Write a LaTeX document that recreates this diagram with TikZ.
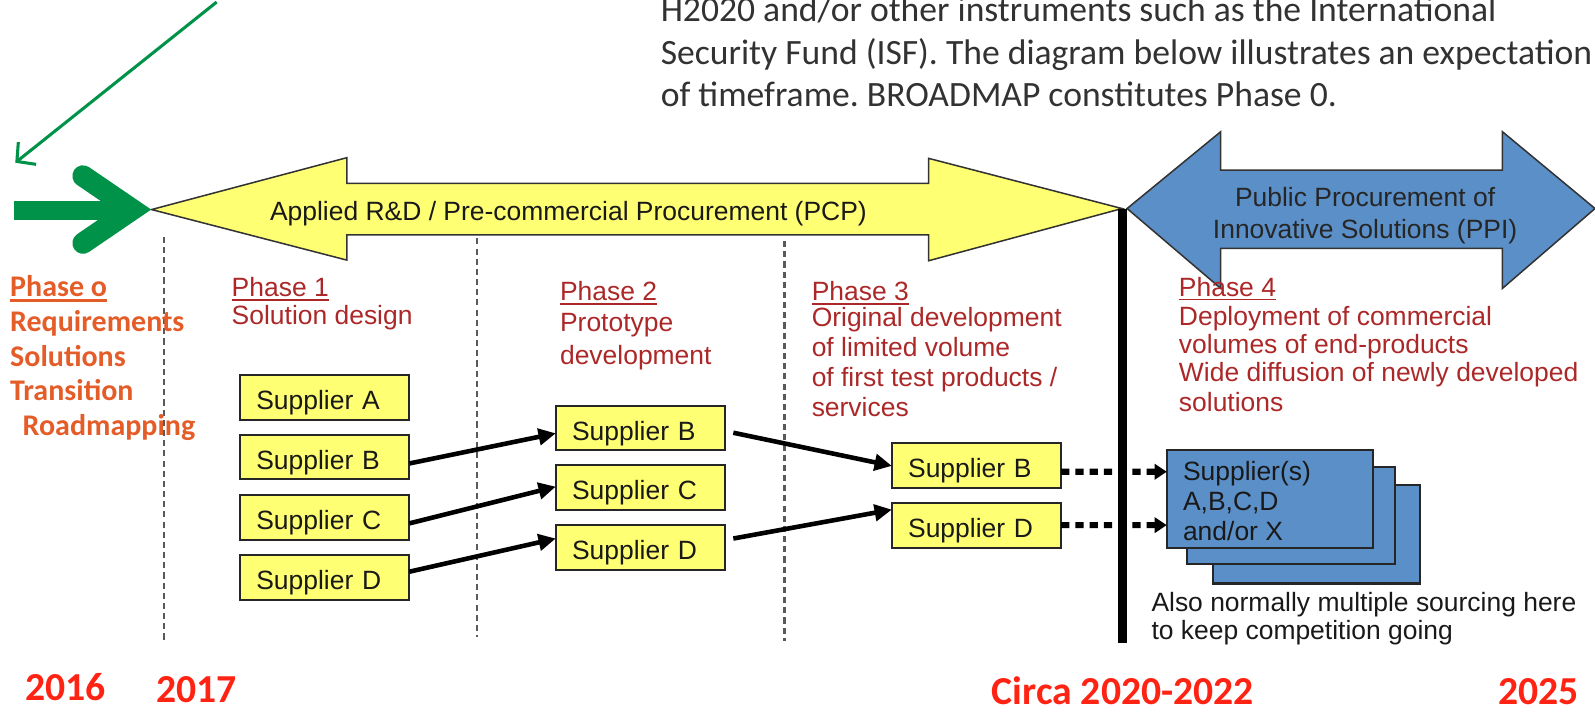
\documentclass[tikz,border=0pt]{standalone}
\usepackage{fontspec}
\setmainfont{Liberation Sans}
\newfontfamily\calib{Carlito}
\usetikzlibrary{arrows.meta}
\frenchspacing
\definecolor{ybox}{RGB}{255,255,115}
\definecolor{bbox}{RGB}{91,143,200}
\definecolor{phred}{RGB}{172,40,40}
\definecolor{phor}{RGB}{228,92,40}
\definecolor{yrred}{RGB}{255,35,20}
\definecolor{grn}{RGB}{0,146,72}
\definecolor{txtgray}{RGB}{50,50,50}
\begin{document}
\begin{tikzpicture}[x=1pt,y=-1pt,
  every node/.style={inner sep=0pt, outer sep=0pt},
  arialtxt/.style={font=\fontsize{26}{30}\selectfont},
  phtxt/.style={arialtxt, text=phred, anchor=base west},
  p0txt/.style={font=\calib\bfseries\fontsize{29.5}{34}\selectfont, text=phor, anchor=base west},
  yeartxt/.style={font=\calib\bfseries\fontsize{39}{44}\selectfont, text=yrred, anchor=base west},
  toptxt/.style={font=\calib\fontsize{35}{42}\selectfont, text=txtgray, anchor=base west},
  blktxt/.style={arialtxt, text=black!90, anchor=base west},
  supbox/.style={draw=black!85, line width=2, fill=ybox, arialtxt, text=black!90,
    text width=134.5, inner xsep=16, minimum height=44, align=left,
    text height=24, text depth=0},
  bluebox/.style={draw=black!85, line width=2, fill=bbox},
  uline/.style={line width=1.8},
  flowarrow/.style={line width=4.5, -{Triangle[length=17,width=16]}},
  dotarrow/.style={line width=6, dash pattern=on 8 off 6, -{Triangle[length=12,width=15]}},
  dashln/.style={draw=black!65, line width=2, dash pattern=on 6 off 4}
]
\useasboundingbox (0,0) rectangle (1568,702);

% top paragraph
\node[toptxt] (t1) at (649.6,21) {H2020 and/or other instruments such as the International};
\node[toptxt] (t2) at (649.6,63) {Security Fund (ISF). The diagram below illustrates an expectation};
\node[toptxt] (t3) at (649.6,105) {of timeframe. BROADMAP constitutes Phase 0.};

% dashed phase separators
\coordinate (d1t) at (161.6,232.7); \coordinate (d1b) at (161.6,632.6);
\coordinate (d2t) at (468.7,234.3); \coordinate (d2b) at (468.7,626);
\coordinate (d3t) at (771.2,237);   \coordinate (d3b) at (771.2,630);
\draw[dashln] (d1t) -- (d1b);
\draw[dashln] (d2t) -- (d2b);
\draw[dashln] (d3t) -- (d3b);

% yellow double arrow
\filldraw[fill=ybox, draw=black!80, line width=1.5]
  (149,206) -- (341,155) -- (341,180.3) -- (913,180.3) -- (913,155.7) -- (1103,205)
  -- (913,256.3) -- (913,231) -- (341,231) -- (341,255.7) -- cycle;
\node[blktxt] (pcp) at (265.5,216.3) {Applied R\&D / Pre-commercial Procurement (PCP)};

% blue double arrow
\filldraw[fill=bbox, draw=black!80, line width=1.5]
  (1108,205) -- (1200,129.5) -- (1200,167.2) -- (1477,167.2) -- (1477,129.5) -- (1568,205)
  -- (1477,283.5) -- (1477,244.2) -- (1200,244.2) -- (1200,283.5) -- cycle;
\node[arialtxt, anchor=base, text=black!85] (ppi1) at (1342,203.2) {Public Procurement of};
\node[arialtxt, anchor=base, text=black!85] (ppi2) at (1342,234.4) {Innovative Solutions (PPI)};

% black milestone line
\coordinate (bl1) at (1103.5,205); \coordinate (bl2) at (1103.5,632);
\draw[line width=9] (bl1) -- (bl2);

% green arrows
\coordinate (gt0) at (213,2); \coordinate (gt1) at (15,160);
\draw[grn, line width=3, -{Straight Barb[length=13,width=28,line width=3]}] (gt0) -- (gt1);
\coordinate (gs0) at (13.8,207); \coordinate (gs1) at (128,207);
\draw[grn, line width=19] (gs0) -- (gs1);
\coordinate (gc1) at (81.6,173); \coordinate (gc2) at (130,206); \coordinate (gc3) at (81.6,239);
\draw[grn, line width=21, line cap=round, line join=miter] (gc1) -- (gc2) -- (gc3);

% phase 0
\node[p0txt] (p0a) at (10,291.7) {Phase o};
\draw[phor, line width=2.5] ([yshift=-3.5]p0a.base west) -- ([yshift=-3.5]p0a.base east);
\node[p0txt] (p0b) at (10,326) {Requirements};
\node[p0txt] (p0c) at (10,360) {Solutions};
\node[p0txt] (p0d) at (10,394) {Transition};
\node[p0txt] (p0e) at (22.3,428) {Roadmapping};

% phase 1
\node[phtxt] (ph1) at (227.8,291.7) {Phase 1};
\draw[phred, uline] ([yshift=-3.5]ph1.base west) -- ([yshift=-3.5]ph1.base east);
\node[phtxt] (ph1a) at (227.8,318.6) {Solution design};

% phase 2
\node[phtxt] (ph2) at (550.6,295.6) {Phase 2};
\draw[phred, uline] ([yshift=-3.5]ph2.base west) -- ([yshift=-3.5]ph2.base east);
\node[phtxt] (ph2a) at (550.6,326) {Prototype};
\node[phtxt] (ph2b) at (550.6,358) {development};

% phase 3
\node[phtxt] (ph3) at (798,295.6) {Phase 3};
\draw[phred, uline] ([yshift=-3.5]ph3.base west) -- ([yshift=-3.5]ph3.base east);
\node[phtxt] (ph3a) at (798,321) {Original development};
\node[phtxt] (ph3b) at (798,350.7) {of limited volume};
\node[phtxt] (ph3c) at (798,380) {of first test products /};
\node[phtxt] (ph3d) at (798,409.7) {services};

% phase 4
\node[phtxt] (ph4) at (1159,291) {Phase 4};
\draw[phred, uline] ([yshift=-3.5]ph4.base west) -- ([yshift=-3.5]ph4.base east);
\node[phtxt] (ph4a) at (1159,319.6) {Deployment of commercial};
\node[phtxt] (ph4b) at (1159,347.4) {volumes of end-products};
\node[phtxt] (ph4c) at (1159,375.3) {Wide diffusion of newly developed};
\node[phtxt] (ph4d) at (1159,404.8) {solutions};

% supplier boxes
\node[supbox] (p1a) at (319.25,390.7) {Supplier A};
\node[supbox] (p1b) at (319.25,449.3) {Supplier B};
\node[supbox] (p1c) at (319.25,508.5) {Supplier C};
\node[supbox] (p1d) at (319.25,567.5) {Supplier D};
\node[supbox] (p2b) at (629.65,420.7) {Supplier B};
\node[supbox] (p2c) at (629.65,479.4) {Supplier C};
\node[supbox] (p2d) at (629.65,538.4) {Supplier D};
\node[supbox] (p3b) at (960,457.5) {Supplier B};
\node[supbox] (p3d) at (960,516.5) {Supplier D};

% blue stack
\node[bluebox, minimum width=203.6, minimum height=96.6, anchor=north west] (s4back) at (1192,477) {};
\node[bluebox, minimum width=204, minimum height=95.6, anchor=north west] (s4mid) at (1167,459) {};
\node[bluebox, minimum width=203, minimum height=96.5, anchor=north west] (s4front) at (1147,442) {};
\node[blktxt] (s4t1) at (1163,472) {Supplier(s)};
\node[blktxt] (s4t2) at (1163,501.5) {A,B,C,D};
\node[blktxt] (s4t3) at (1163,531.6) {and/or X};

\node[blktxt] (note1) at (1132,601.5) {Also normally multiple sourcing here};
\node[blktxt] (note2) at (1132,628.5) {to keep competition going};

% flow arrows
\draw[flowarrow] ([yshift=-6.3]p1b.east) -- ([yshift=-5.3]p2b.west);
\draw[flowarrow] ([yshift=-6]p1c.east) -- ([yshift=1]p2c.west);
\draw[flowarrow] ([yshift=5.5]p1d.east) -- ([yshift=9]p2d.west);
\draw[flowarrow] ([xshift=8,yshift=-4.7]p2b.east) -- ([yshift=-0.5]p3b.west);
\draw[flowarrow] ([xshift=8,yshift=9]p2d.east) -- ([yshift=15.5]p3d.west);
\draw[dotarrow] ([yshift=-6.3]p3b.east) -- ([yshift=26.5]s4front.west);
\draw[dotarrow] ([yshift=0.3]p3d.east) -- ([yshift=-26]s4front.west);

% years
\node[yeartxt] (y2016) at (24.6,689) {2016};
\node[yeartxt] (y2017) at (153.4,691) {2017};
\node[yeartxt] (ycirca) at (975,693) {Circa 2020-2022};
\node[yeartxt] (y2025) at (1473,693) {2025};
\end{tikzpicture}
\end{document}
